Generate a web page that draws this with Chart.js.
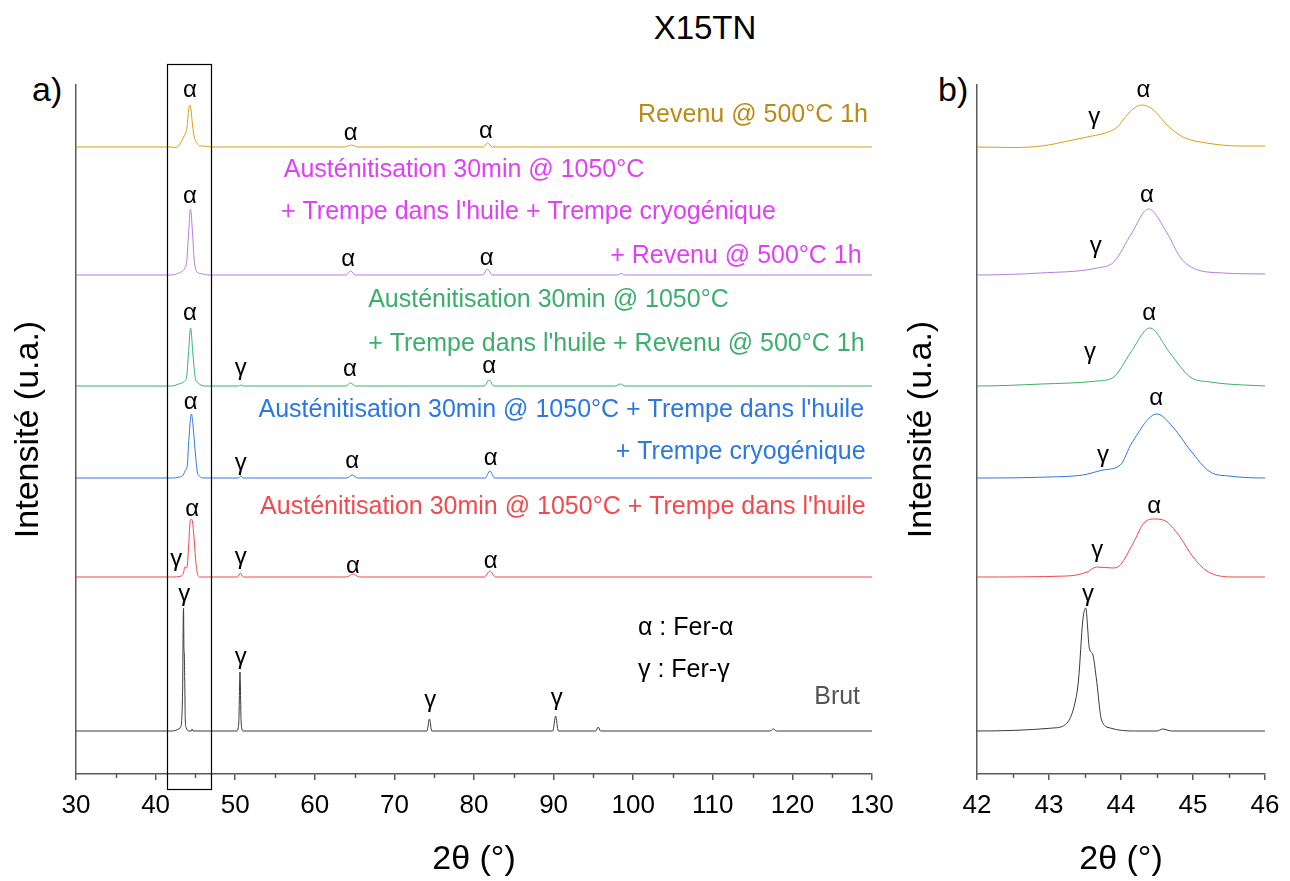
<!DOCTYPE html>
<html>
<head>
<meta charset="utf-8">
<script src="https://cdn.jsdelivr.net/npm/chart.js@4/dist/chart.umd.min.js"></script>
<style>
  body { margin: 0; background: #fff; width: 1290px; height: 881px; position: relative; overflow: hidden;
         font-family: "Liberation Sans", Arial, sans-serif; }
  #wa { position: absolute; left: 0; top: 0; width: 900px; height: 881px; }
  #wb { position: absolute; left: 900px; top: 0; width: 390px; height: 881px; }
  .lbl { position: absolute; color: #000; line-height: 1; white-space: nowrap; }
</style>
</head>
<body>
<div class="lbl" style="left:605px;width:200px;text-align:center;top:11px;font-size:33px;">X15TN</div>
<div class="lbl" style="left:32px;top:72px;font-size:34px;">a)</div>
<div class="lbl" style="left:938px;top:72px;font-size:34px;">b)</div>
<div id="wa"><canvas id="chartA"></canvas></div>
<div id="wb"><canvas id="chartB"></canvas></div>
<script>
// traces: [2theta, intensity above own baseline]
const brut = [[30,0],[42,0],[43.06,3],[43.25,8],[43.36,28],[43.41,51],[43.47,111],[43.51,123],[43.56,83],[43.61,76],[43.66,51],[43.73,11],[43.85,3],[44.2,0],[44.5,0],[44.58,2],[44.7,0],
  [50.2,0],[50.45,8],[50.6,59],[50.75,8],[51,0],[74.1,0],[74.4,12],[74.7,0],[89.9,0],[90.25,15],[90.6,0],[95.3,0],[95.6,4],[95.9,0],[117.2,0],[117.6,2],[118,0],[130,0]];
const trempe = [[30,0],[42,0],[43.25,1],[43.53,5],[43.66,10],[43.89,9],[43.99,12],[44.17,34],[44.33,55],[44.47,58],[44.64,55],[44.82,40],[45.0,20],[45.24,4],[45.6,0],
  [50.3,0],[50.65,4],[51,0],[64,0],[64.8,3],[65.6,0],[81.3,0],[82,6],[82.7,0],[130,0]];
const trempeCryo = [[30,0],[42,0],[43,1],[43.47,3],[43.75,8],[43.99,13],[44.15,35],[44.5,64],[44.72,51],[44.96,28],[45.24,6],[45.5,2],[46,0],
  [50.4,0],[50.7,2],[51,0],[64,0],[64.7,3],[65.4,0],[81.4,0],[82,7],[82.6,0],[130,0]];
const trempeRevenu = [[30,0],[42,0],[42.9,2],[43.67,5],[43.9,9],[44.13,33],[44.4,58],[44.68,33],[44.96,9],[45.24,4],[45.7,1],[46.2,0],
  [50.4,0],[50.7,1],[51,0],[63.9,0],[64.5,3],[65.1,0],[81.3,0],[81.9,6],[82.5,0],[97.8,0],[98.4,2],[99,0],[130,0]];
const trempeCryoRevenu = [[30,0],[42,0],[42.88,2],[43.67,7],[43.9,13],[44.15,42],[44.38,66],[44.64,42],[44.82,18],[45.0,7],[45.42,2],[46,1],[46.5,0],
  [63.9,0],[64.5,4],[65.1,0],[81.1,0],[81.7,6],[82.3,0],[98,0],[98.5,1.5],[99,0],[130,0]];
const revenu = [[30,0],[42,0],[42.5,-0.5],[42.9,1],[43.33,7],[43.6,11],[43.78,14],[43.95,20],[44.03,27],[44.15,37],[44.29,42],[44.45,37],[44.64,22],[44.86,10],[45.19,4],[45.65,1],[46,1],[47,0],
  [63.8,0],[64.6,2],[65.4,0],[81.2,0],[81.7,4],[82.3,0],[130,0]];

const traces = [brut, trempe, trempeCryo, trempeRevenu, trempeCryoRevenu, revenu];
const offsets = [43, 197, 296, 388, 499, 627];
const lineColors = ['#3a3a3a', '#f0484c', '#2f78de', '#3cae6c', '#b57ddf', '#d6a010'];

// peak labels [symbol, 2theta, y]
const peaksA = [
  ['α',44.3,684],['α',64.5,641],['α',81.5,643],
  ['α',44.3,578],['α',64.2,515],['α',81.6,516],
  ['α',44.3,461],['γ',50.7,406],['α',64.4,405],['α',81.9,408],
  ['α',44.4,372],['γ',50.7,311],['α',64.7,313],['α',82.1,316],
  ['α',44.6,265],['γ',42.6,215],['γ',50.7,217],['α',64.8,208],['α',82.1,213],
  ['γ',43.6,180],['γ',50.7,117],['γ',74.5,74],['γ',90.4,76]
];
const peaksB = [
  ['γ',43.63,657],['α',44.31,684],
  ['γ',43.65,528],['α',44.36,579],
  ['γ',43.57,422],['α',44.39,461],
  ['γ',43.75,319],['α',44.49,376],
  ['γ',43.67,224],['α',44.46,268],
  ['γ',43.54,180]
];
// sample captions [text, 2theta, y, align, colour]
const captions = [
  ['Revenu @ 500°C 1h', 129.5, 659, 'right', '#bb8a16'],
  ['Austénitisation 30min @ 1050°C', 56.1, 604, 'left', '#e040f5'],
  ["+ Trempe dans l'huile + Trempe cryogénique", 55.75, 562, 'left', '#e040f5'],
  ['+ Revenu @ 500°C 1h', 128.7, 518, 'right', '#e040f5'],
  ['Austénitisation 30min @ 1050°C', 66.7, 474, 'left', '#3cae6c'],
  ["+ Trempe dans l'huile + Revenu @ 500°C 1h", 66.7, 430, 'left', '#3cae6c'],
  ["Austénitisation 30min @ 1050°C + Trempe dans l'huile", 129.0, 364, 'right', '#2b78e4'],
  ['+ Trempe cryogénique', 129.2, 322, 'right', '#2b78e4'],
  ["Austénitisation 30min @ 1050°C + Trempe dans l'huile", 129.2, 267, 'right', '#f04a4e'],
  ['α : Fer-α', 100.6, 146, 'left', '#000'],
  ['γ : Fer-γ', 100.6, 104, 'left', '#000'],
  ['Brut', 128.5, 77, 'right', '#555']
];
const zoomBox = [41.43, 46.96, -15, 710];

const FONT = '"Liberation Sans", Arial, sans-serif';
const AXIS = '#5a5a5a';

function decorPlugin(peaks, notes, box, minorStep) {
    return {
        id: 'decor',
        afterDraw(chart) {
            const { ctx, chartArea, scales: { x, y } } = chart;
            ctx.save();
            // minor ticks
            ctx.strokeStyle = AXIS;
            ctx.lineWidth = 1.5;
            for (let v = x.min + minorStep; v < x.max; v += 2 * minorStep) {
                const px = Math.round(x.getPixelForValue(v)) + 0.5;
                ctx.beginPath();
                ctx.moveTo(px, chartArea.bottom);
                ctx.lineTo(px, chartArea.bottom + 4);
                ctx.stroke();
            }
            if (box) {
                const x0 = x.getPixelForValue(box[0]), x1 = x.getPixelForValue(box[1]);
                const y0 = y.getPixelForValue(box[3]), y1 = y.getPixelForValue(box[2]);
                ctx.strokeStyle = '#000';
                ctx.lineWidth = 1.2;
                ctx.strokeRect(Math.round(x0) + 0.5, Math.round(y0) + 0.5, Math.round(x1 - x0), Math.round(y1 - y0));
            }
            ctx.textBaseline = 'middle';
            ctx.font = '24px ' + FONT;
            ctx.fillStyle = '#000';
            ctx.textAlign = 'center';
            peaks.forEach(([s, px, py]) => ctx.fillText(s, x.getPixelForValue(px), y.getPixelForValue(py)));
            ctx.font = '25px ' + FONT;
            notes.forEach(([t, px, py, al, col]) => {
                ctx.textAlign = al;
                ctx.fillStyle = col;
                ctx.fillText(t, x.getPixelForValue(px), y.getPixelForValue(py));
            });
            ctx.restore();
        }
    };
}

function makeChart(id, opts) {
    const datasets = traces.map((pts, i) => ({
        data: pts.map(([tt, v]) => ({ x: tt, y: v + offsets[i] })),
        borderColor: lineColors[i],
        borderWidth: 1,
        pointRadius: 0,
        cubicInterpolationMode: 'monotone',
        fill: false
    }));
    return new Chart(document.getElementById(id), {
        type: 'line',
        data: { datasets },
        options: {
            responsive: true,
            maintainAspectRatio: false,
            animation: false,
            devicePixelRatio: 1,
            layout: { padding: { top: 85, right: opts.padRight, left: 0, bottom: 0 } },
            plugins: { legend: { display: false }, tooltip: { enabled: false } },
            scales: {
                x: {
                    type: 'linear',
                    min: opts.xmin, max: opts.xmax,
                    afterFit: s => { s.height = 107; s.paddingLeft = 0; s.paddingRight = 0; },
                    ticks: { stepSize: opts.step, color: '#000', font: { size: 26, family: FONT }, padding: 10, maxRotation: 0 },
                    grid: { drawOnChartArea: false, drawTicks: true, tickLength: 6, color: AXIS, lineWidth: 1.5 },
                    border: { color: AXIS, width: 1.5 },
                    title: { display: true, text: '2θ (°)', color: '#000', font: { size: 34, family: FONT }, padding: { top: 0, bottom: 1 } }
                },
                y: {
                    type: 'linear',
                    min: 0, max: 689,
                    afterFit: s => { s.width = opts.yWidth; },
                    ticks: { display: false },
                    grid: { display: false },
                    border: { color: AXIS, width: 1.5 },
                    title: { display: true, text: 'Intensité (u.a.)', color: '#000', font: { size: 34, family: FONT }, padding: { top: opts.yTitlePad, bottom: 0 } }
                }
            }
        },
        plugins: [decorPlugin(opts.peaks, opts.notes, opts.box, opts.minor)]
    });
}

makeChart('chartA', { xmin: 30, xmax: 130, step: 10, minor: 5, padRight: 28, yWidth: 76, yTitlePad: 8,
    peaks: peaksA, notes: captions, box: zoomBox });
makeChart('chartB', { xmin: 42, xmax: 46, step: 1, minor: 0.5, padRight: 25, yWidth: 77, yTitlePad: 1,
    peaks: peaksB, notes: [], box: null });
</script>
</body>
</html>
